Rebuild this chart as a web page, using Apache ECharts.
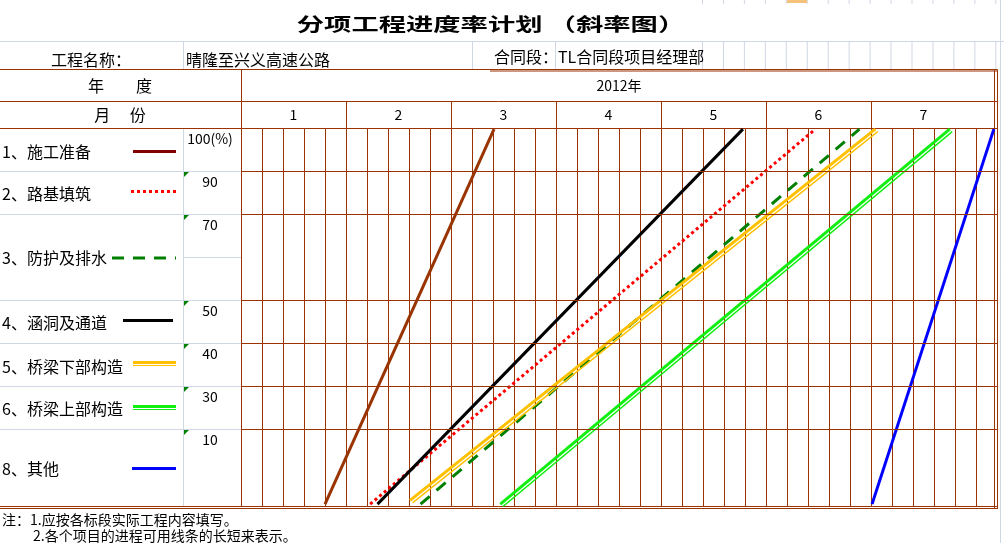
<!DOCTYPE html>
<html><head><meta charset="utf-8">
<script src="https://cdn.jsdelivr.net/npm/echarts@6/dist/echarts.min.js"></script>
<style>html,body{margin:0;padding:0;background:#fff}#c{width:1004px;height:543px}</style>
</head><body><div id="c"></div><script>
// ---------- texts ----------
const TITLE = '分项工程进度率计划 （斜率图）';
const PROJECT_LABEL = '工程名称：';
const PROJECT_NAME = '晴隆至兴义高速公路';
const CONTRACT_LABEL = '合同段：';
const CONTRACT_NAME = 'TL合同段项目经理部';
const YEAR_HEAD = '年　　度';
const MONTH_HEAD = '月　 份';
const YEAR = '2012年';
const MONTHS = ['1', '2', '3', '4', '5', '6', '7'];
const Y_LABELS = ['100(%)', '90', '70', '50', '40', '30', '10'];
const ITEMS = ['1、施工准备', '2、路基填筑', '3、防护及排水', '4、涵洞及通道', '5、桥梁下部构造', '6、桥梁上部构造', '8、其他'];
const NOTES = ['注：1.应按各标段实际工程内容填写。', '2.各个项目的进程可用线条的长短来表示。'];

// ---------- data: x = months elapsed since start of Jan 2012, y = progress ----------
const PREP = [[0.80, 0], [2.41, 100]];
const SUBGRADE = [[1.23, 0], [5.47, 100]];
const PROTECTION = [[1.71, 0], [5.89, 100]];
const CULVERT = [[1.30, 0], [4.78, 100]];
const SUBSTRUCTURE = [[1.61, 1], [6.04, 100]];
const SUPERSTRUCTURE = [[2.47, 0], [6.75, 100]];
const OTHER = [[6.01, 0], [7.17, 100]];

// ---------- layout ----------
const BROWN = '#993300';
const LIGHT = '#d0d7e5';
const FONT = '"Noto Sans CJK SC", "Noto Sans", sans-serif';
const X_MAX = 7.2;                 // right edge of the sheet (part of an 8th month)
const Y_MIN = -0.5, Y_MAX = 100.3;  // slight margins around 0..100
const ROW_RULES = [100.3, 88.83, 77.37, 54.43, 42.97, 31.5, 20.03]; // sheet row rules, axis units
const MONTH_EDGES = [0, 1, 2, 3, 4, 5, 6, X_MAX];
const MONTH_CENTERS = MONTHS.map((m, i) => i + 0.5);

function nearestIdx(arr, v) {
  let b = 0;
  arr.forEach((a, i) => { if (Math.abs(a - v) < Math.abs(arr[b] - v)) b = i; });
  return b;
}

function lineSeries(name, data, style, z) {
  return { type: 'line', name, data, symbol: 'none', silent: true, z: z || 3,
    emphasis: { disabled: true }, lineStyle: style };
}
function thinOffset(name, data, color) {
  return lineSeries(name, data, { color, width: 1.4, shadowColor: color, shadowBlur: 0,
    shadowOffsetX: 2.5, shadowOffsetY: 2.5 }, 3);
}

const chart = echarts.init(document.getElementById('c'), null, { renderer: 'canvas' });

const option = {
  animation: false,
  backgroundColor: '#fff',
  grid: { left: 241, top: 128, width: 756, height: 378, show: false },
  xAxis: [
    { type: 'value', min: 0, max: X_MAX, interval: 0.2, position: 'bottom',
      axisLine: { show: false }, axisTick: { show: false }, axisLabel: { show: false },
      splitLine: { show: true, lineStyle: { color: BROWN, width: 1 } } },
    { type: 'value', min: 0, max: X_MAX, position: 'top',
      axisLine: { show: true, lineStyle: { color: BROWN, width: 1 } },
      axisTick: { show: true, customValues: MONTH_EDGES, length: 27, inside: false, lineStyle: { color: BROWN, width: 1 } },
      axisLabel: { customValues: MONTH_CENTERS, formatter: v => MONTHS[Math.floor(v)], margin: 6,
        fontSize: 14, color: '#000', fontFamily: FONT },
      splitLine: { show: false },
      name: YEAR, nameLocation: 'middle', nameGap: 35,
      nameTextStyle: { fontSize: 14, color: '#000', fontFamily: FONT } }
  ],
  yAxis: {
    type: 'value', min: Y_MIN, max: Y_MAX,
    axisLine: { show: false }, axisTick: { show: false }, splitLine: { show: false },
    axisLabel: { customValues: ROW_RULES, formatter: v => Y_LABELS[nearestIdx(ROW_RULES, v)],
      align: 'center', margin: 31, verticalAlign: 'top', padding: [4, 0, 0, 0],
      fontSize: 14, color: '#000', fontFamily: FONT }
  },
  series: [
    { type: 'line', data: [], symbol: 'none', silent: true, z: 1,
      markLine: { silent: true, symbol: ['none', 'none'], label: { show: false }, animation: false,
        lineStyle: { color: BROWN, width: 1, type: 'solid' }, emphasis: { disabled: true },
        data: ROW_RULES.slice(1).map(v => ({ yAxis: v })) } },
    lineSeries(ITEMS[0], PREP, { color: BROWN, width: 3 }),
    lineSeries(ITEMS[1], SUBGRADE, { color: '#ff0000', width: 3, type: [3, 3] }),
    lineSeries(ITEMS[2], PROTECTION, { color: '#008000', width: 3, type: [12, 9] }),
    lineSeries(ITEMS[3], CULVERT, { color: '#000000', width: 3 }),
    thinOffset(ITEMS[4], SUBSTRUCTURE, '#ffc000'),
    lineSeries(ITEMS[4], SUBSTRUCTURE, { color: '#ffc000', width: 3 }),
    thinOffset(ITEMS[5], SUPERSTRUCTURE, '#11ee11'),
    lineSeries(ITEMS[5], SUPERSTRUCTURE, { color: '#11ee11', width: 3 }),
    lineSeries(ITEMS[6], OTHER, { color: '#0000ff', width: 3 })
  ]
};
chart.setOption(option);

// ---------- sheet frame / label column (graphics) ----------
const rowPx = ROW_RULES.map(v => chart.convertToPixel({ yAxisIndex: 0 }, v));
const xL = chart.convertToPixel({ xAxisIndex: 0 }, 0);
const xR = chart.convertToPixel({ xAxisIndex: 0 }, X_MAX);
const yTop = chart.convertToPixel({ yAxisIndex: 0 }, Y_MAX);
const yBot = chart.convertToPixel({ yAxisIndex: 0 }, Y_MIN);

const g = [];
function L(x1, y1, x2, y2, stroke, w, dash) {
  g.push({ type: 'line', silent: true, z: 0, shape: { x1, y1, x2, y2 },
    style: { stroke, lineWidth: w || 1, lineDash: dash || null } });
}
function T(text, x, y, size, align, extra) {
  g.push(Object.assign({ type: 'text', silent: true, z: 10, x, y,
    style: { text, font: (size || 16) + 'px ' + FONT, fill: '#000',
      align: align || 'left', textAlign: align || 'left', verticalAlign: 'middle', textVerticalAlign: 'middle' } }, extra || {}));
}

// light excel gridlines
L(0, 41.5, 1004, 41.5, LIGHT);
[183.5, 472.5, 555.5].forEach(x => L(x, 41, x, 70, LIGHT));
for (let x = 702.5; x < 1004; x += 20.95) L(x, 41, x, 70, LIGHT);
for (let x = 702.5; x < 1004; x += 20.95) L(x, 0, x, 4, LIGHT);
g.push({ type: 'rect', silent: true, z: 0, shape: { x: 787, y: 0, width: 20, height: 3 }, style: { fill: '#f6c27a' } });
L(183.5, yTop, 183.5, yBot, LIGHT);
rowPx.slice(1).forEach(y => L(0, Math.round(y) + 0.5, xL, Math.round(y) + 0.5, LIGHT));
const midY = Math.round((rowPx[2] + rowPx[3]) / 2) + 0.5;
L(183.5, midY, xL, midY, LIGHT);
L(1000.5, 0, 1000.5, 543, LIGHT);

// brown frame
L(0, 69.5, xR + 0.5, 69.5, BROWN);
L(490, 71, xR + 0.5, 71, BROWN);
L(0, 101.5, xR + 0.5, 101.5, BROWN);
L(0, Math.round(yTop) + 0.5, xR, Math.round(yTop) + 0.5, BROWN);
L(0, Math.round(yBot) + 0.5, xR + 0.5, Math.round(yBot) + 0.5, BROWN);
L(0, Math.round(yBot) + 2.5, xR + 0.5, Math.round(yBot) + 2.5, BROWN);
L(Math.round(xL) + 0.5, 69.5, Math.round(xL) + 0.5, yTop, BROWN);
L(Math.round(xR) - 2.5, 69.5, Math.round(xR) - 2.5, yBot + 3, BROWN);
L(Math.round(xR) + 0.5, 69.5, Math.round(xR) + 0.5, yBot + 3, BROWN);

// green corner markers
rowPx.slice(1).forEach(y => {
  const yy = Math.round(y) + 1;
  g.push({ type: 'polygon', silent: true, z: 5, shape: { points: [[184, yy], [189, yy], [184, yy + 5]] }, style: { fill: '#008000' } });
});

// title & info row
T(TITLE, 491, 24, 21, 'center', { scaleX: 1.3, scaleY: 0.88, style: { text: TITLE, font: 'bold 21px ' + FONT, fill: '#000', align: 'center', textAlign: 'center', verticalAlign: 'middle', textVerticalAlign: 'middle' } });
T(PROJECT_LABEL, 51, 60, 16);
T(PROJECT_NAME, 186, 60, 16);
T(CONTRACT_LABEL, 494, 57, 16);
T(CONTRACT_NAME, 558, 57, 16);
T(YEAR_HEAD, 120, 86, 16, 'center');
T(MONTH_HEAD, 120, 115, 16, 'center');

// item labels + legend samples
const ITEM_Y = [152, 194, 258, 323, 367, 409, 469];
ITEMS.forEach((t, i) => T(t, 2, ITEM_Y[i], 16));
L(133, 151.5, 176, 151.5, '#800000', 3);
L(131, 191.5, 176, 191.5, '#ff0000', 3, [3, 3]);
L(112, 258, 176, 258, '#008000', 3, [12, 9]);
L(123, 320.5, 173, 320.5, '#000000', 3);
L(133, 362.5, 176, 362.5, '#ffc000', 3);
L(133, 365.5, 176, 365.5, '#ffc000', 1);
L(133, 406.5, 176, 406.5, '#11ee11', 3);
L(133, 409.5, 176, 409.5, '#11ee11', 1);
L(132, 468.5, 176, 468.5, '#0000ff', 3);

// notes
T(NOTES[0], 2, 520, 14);
T(NOTES[1], 33, 536, 14);

chart.setOption({ graphic: { elements: g } });
</script></body></html>
